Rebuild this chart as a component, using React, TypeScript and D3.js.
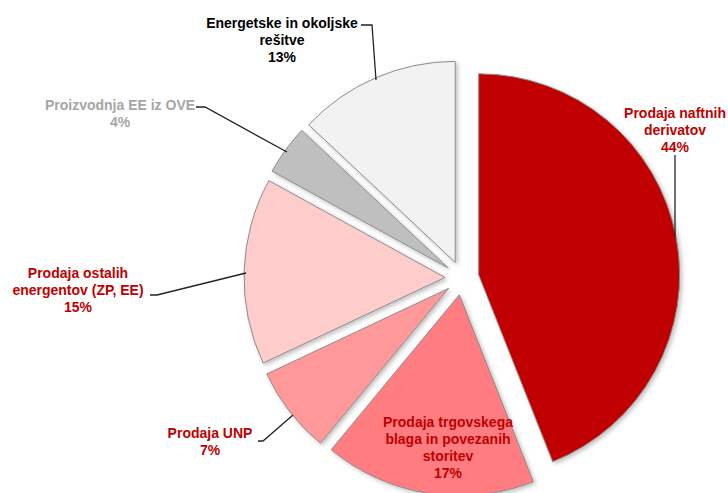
import React from "react";
import * as d3 from "d3";

const categories = [
  "Prodaja naftnih derivatov",
  "Prodaja trgovskega blaga in povezanih storitev",
  "Prodaja UNP",
  "Prodaja ostalih energentov (ZP, EE)",
  "Proizvodnja EE iz OVE",
  "Energetske in okoljske rešitve",
];
const values = [44, 17, 7, 15, 4, 13];
const sliceColors = ["#C00000", "#FF7C80", "#FF9999", "#FFCCCC", "#BFBFBF", "#F2F2F2"];
const labelLines = [
  ["Prodaja naftnih", "derivatov", "44%"],
  ["Prodaja trgovskega", "blaga in povezanih", "storitev", "17%"],
  ["Prodaja UNP", "7%"],
  ["Prodaja ostalih", "energentov (ZP, EE)", "15%"],
  ["Proizvodnja EE iz OVE", "4%"],
  ["Energetske in okoljske", "rešitve", "13%"],
];
const labelColors = ["#C00000", "#C00000", "#C00000", "#C00000", "#A6A6A6", "#000000"];

export default function App() {
  const W = 728, H = 493;
  const cx = 462, cy = 278, r = 201, explode = 17;
  const pie = d3.pie<number>().sort(null).startAngle(0).endAngle(2 * Math.PI)(values);
  const arc = d3.arc<d3.PieArcDatum<number>>().innerRadius(0).outerRadius(r);
  // label positions (center x, first line center y)
  const labelPos = [
    [675, 113],
    [448, 422],
    [210, 433],
    [78, 273],
    [120, 105],
    [282, 23],
  ];
  const leaders = [
    [[675, 155], [675, 237]],
    [],
    [[258, 441], [263, 441], [293, 415]],
    [[150, 295], [157, 295], [246, 273]],
    [[196, 107], [205, 107], [287, 152]],
    [[361, 25], [372, 25], [376, 80]],
  ];
  const lh = 17;
  return (
    <svg width={W} height={H} style={{ position: "absolute", left: 0, top: 0 }}>
      <defs>
        <filter id="sh" x="-20%" y="-20%" width="140%" height="140%">
          <feDropShadow dx="2" dy="2" stdDeviation="2" floodColor="#000" floodOpacity="0.25" />
        </filter>
      </defs>
      <rect width={W} height={H} fill="#fff" />
      {pie.map((d, i) => {
        const mid = (d.startAngle + d.endAngle) / 2;
        const ox = Math.sin(mid) * explode;
        const oy = -Math.cos(mid) * explode;
        return (
          <path
            key={i}
            d={arc(d) || ""}
            transform={`translate(${cx + ox},${cy + oy})`}
            fill={sliceColors[i]}
            stroke="#8C8C8C"
            strokeWidth={1}
            filter="url(#sh)"
          />
        );
      })}
      {leaders.map((pts, i) =>
        pts.length ? (
          <polyline
            key={"l" + i}
            points={pts.map((p) => p.join(",")).join(" ")}
            fill="none"
            stroke="#222"
            strokeWidth={1.3}
          />
        ) : null
      )}
      {labelLines.map((lines, i) => (
        <text
          key={"t" + i}
          textAnchor="middle"
          fontFamily="'Liberation Sans', Arial, sans-serif"
          fontWeight="bold"
          fontSize={14}
          fill={labelColors[i]}
        >
          {lines.map((ln, j) => (
            <tspan key={j} x={labelPos[i][0]} y={labelPos[i][1] + j * lh} dy="0.35em">
              {ln}
            </tspan>
          ))}
        </text>
      ))}
    </svg>
  );
}
